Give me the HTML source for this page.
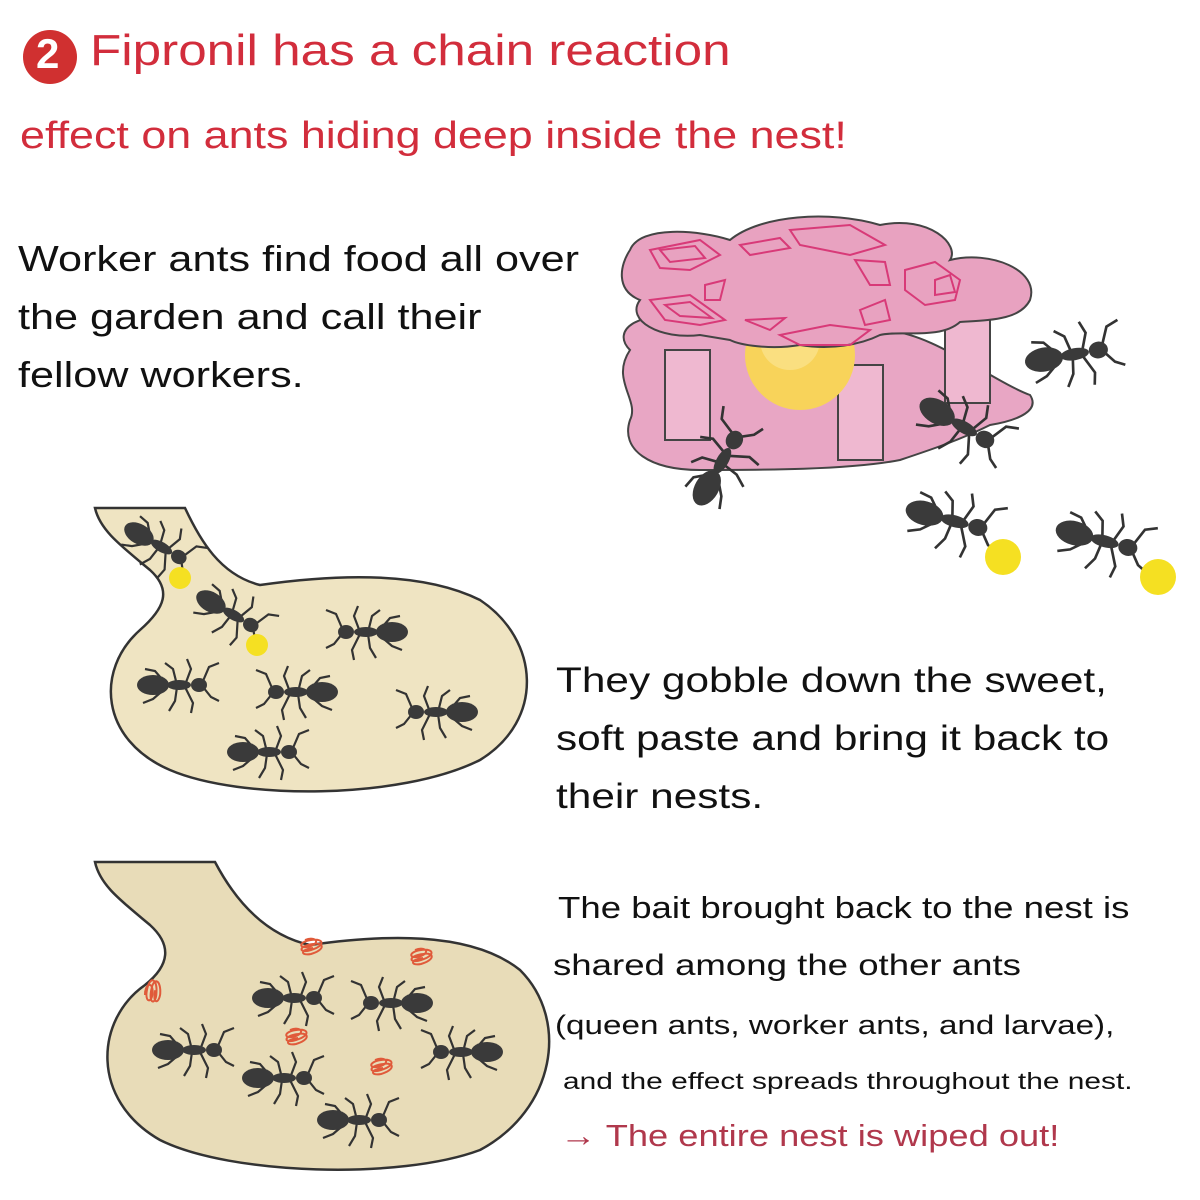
<!DOCTYPE html>
<html><head><meta charset="utf-8"><style>
body{margin:0;background:#fff;}
.w{position:relative;width:1200px;height:1200px;overflow:hidden;font-family:"Liberation Sans",sans-serif;}
.t{position:absolute;white-space:nowrap;transform-origin:0 0;}
svg{position:absolute;left:0;top:0}
</style></head><body><div class="w">
<svg width="1200" height="1200" viewBox="0 0 1200 1200">
<defs>
<g id="ant">
<g stroke="#333" stroke-width="2.2" fill="none">
<path d="M-8 0 L-20 -14 L-30 -16"/><path d="M-8 2 L-22 14 L-32 18"/>
<path d="M2 0 L-2 -16 L-10 -22"/><path d="M2 2 L0 16 L-6 26"/>
<path d="M10 0 L16 -16 L12 -26"/><path d="M10 2 L18 18 L16 28"/>
<path d="M28 -4 L34 -18 L44 -22"/><path d="M28 2 L36 12 L44 16"/>
</g>
<ellipse cx="-22" cy="0" rx="16" ry="10" fill="#3a3a3a"/>
<ellipse cx="4" cy="0" rx="12" ry="5" fill="#3a3a3a"/>
<ellipse cx="24" cy="0" rx="8" ry="7" fill="#3a3a3a"/>
</g>
<g id="coil" fill="none" stroke="#e05a3a" stroke-width="2">
<path d="M0 0 c10 -4 16 2 6 6 c-12 4 -14 -4 0 -6 c14 -2 14 6 0 10 c-12 4 -14 -4 2 -6 c12 -2 12 6 -2 10 c-10 2 -12 -4 2 -6"/>
</g>
</defs>
<path d="M95 508 L185 508 C200 540 220 575 260 585 C330 575 420 570 480 600 C540 640 545 720 480 760 C400 800 240 800 170 770 C100 740 95 670 140 630 C165 608 172 590 150 570 C120 545 100 530 95 508 Z" fill="#efe4c2" stroke="#333" stroke-width="2.5"/>
<path d="M95 862 L215 862 C235 900 265 935 310 945 C380 935 470 930 520 970 C570 1020 555 1110 480 1150 C400 1180 230 1175 160 1140 C90 1100 95 1020 145 985 C170 965 172 945 150 925 C120 900 100 885 95 862 Z" fill="#e8dcb8" stroke="#333" stroke-width="2.5"/>
<path d="M630 350 C610 330 640 310 680 320 L880 330 C930 330 990 380 1030 395 C1040 410 1020 420 990 425 C960 440 930 450 900 460 C850 470 760 470 700 470 C650 470 620 450 630 420 C640 400 610 380 630 350 Z" fill="#e8a6c4" stroke="#444" stroke-width="2"/>
<rect x="665" y="350" width="45" height="90" fill="#efb8d0" stroke="#444" stroke-width="2"/>
<rect x="838" y="365" width="45" height="95" fill="#efb8d0" stroke="#444" stroke-width="2"/>
<rect x="945" y="318" width="45" height="85" fill="#efb8d0" stroke="#444" stroke-width="2"/>
<circle cx="800" cy="355" r="55" fill="#f8d35a"/>
<circle cx="790" cy="340" r="30" fill="#fbe490" opacity=".7"/>
<path d="M630 250 C640 225 700 230 730 240 C760 215 830 210 880 225 C930 215 960 245 950 260 C990 250 1040 270 1030 300 C1020 320 990 320 960 322 C940 340 900 330 880 335 C860 345 830 350 800 345 C770 350 740 345 730 340 L700 335 C660 340 625 320 640 300 C615 290 620 265 630 250 Z" fill="#e8a2c0" stroke="#444" stroke-width="2"/>
<g fill="none" stroke="#d83a78" stroke-width="2">
<path d="M650 250 L700 240 L720 255 L690 270 L660 268 Z"/><path d="M660 250 L695 246 L705 258 L670 262 Z"/>
<path d="M650 300 L690 295 L725 320 L700 325 L665 320 Z"/><path d="M665 305 L690 302 L712 318 L680 316 Z"/>
<path d="M740 245 L780 238 L790 248 L750 255 Z"/><path d="M790 230 L850 225 L885 245 L850 255 L800 245 Z"/>
<path d="M855 260 L885 262 L890 285 L870 285 Z"/><path d="M905 270 L935 262 L960 280 L955 300 L925 305 L905 290 Z"/>
<path d="M935 280 L950 275 L955 292 L935 295 Z"/><path d="M780 335 L830 325 L870 330 L850 345 L800 345 Z"/>
<path d="M705 285 L725 280 L720 300 L705 300 Z"/><path d="M745 320 L785 318 L770 330 Z"/>
<path d="M860 310 L885 300 L890 320 L865 325 Z"/>
</g>
<use href="#ant" transform="translate(1070,355) rotate(-10) scale(1.2)"/>
<use href="#ant" transform="translate(960,425) rotate(30) scale(1.2)"/>
<use href="#ant" transform="translate(720,465) rotate(-60) scale(1.2)"/>
<use href="#ant" transform="translate(950,520) rotate(15) scale(1.2)"/>
<use href="#ant" transform="translate(1100,540) rotate(15) scale(1.2)"/>
<circle cx="1003" cy="557" r="18" fill="#f5e022"/>
<circle cx="1158" cy="577" r="18" fill="#f5e022"/>
<use href="#ant" transform="translate(158,545) rotate(30)"/>
<circle cx="180" cy="578" r="11" fill="#f5e022"/>
<use href="#ant" transform="translate(230,613) rotate(30)"/>
<circle cx="257" cy="645" r="11" fill="#f5e022"/>
<use href="#ant" transform="translate(370,632) scale(-1,1)"/>
<use href="#ant" transform="translate(175,685)"/>
<use href="#ant" transform="translate(300,692) scale(-1,1)"/>
<use href="#ant" transform="translate(440,712) scale(-1,1)"/>
<use href="#ant" transform="translate(265,752)"/>
<use href="#ant" transform="translate(290,998)"/>
<use href="#ant" transform="translate(395,1003) scale(-1,1)"/>
<use href="#ant" transform="translate(190,1050)"/>
<use href="#ant" transform="translate(280,1078)"/>
<use href="#ant" transform="translate(465,1052) scale(-1,1)"/>
<use href="#ant" transform="translate(355,1120)"/>
<use href="#coil" transform="translate(305,940)"/>
<use href="#coil" transform="translate(415,950)"/>
<use href="#coil" transform="translate(145,995) rotate(-70)"/>
<use href="#coil" transform="translate(290,1030)"/>
<use href="#coil" transform="translate(375,1060)"/>
<circle cx="50" cy="57" r="27" fill="#d03030"/>
</svg>
<div class="t" style="left:36px;top:30px;font-size:42px;font-weight:bold;color:#fff">2</div>
<div class="t" style="left:90px;top:26px;font-size:44px;color:#d22d3c;transform:scaleX(1.164)">Fipronil has a chain reaction</div>
<div class="t" style="left:20px;top:115px;font-size:38px;color:#d22d3c;transform:scaleX(1.18)">effect on ants hiding deep inside the nest!</div>
<div class="t" style="left:18px;top:230px;font-size:36px;line-height:58px;color:#111;transform:scaleX(1.2)">Worker ants find food all over<br>the garden and call their<br>fellow workers.</div>
<div class="t" style="left:556px;top:652px;font-size:35px;line-height:58px;color:#111;transform:scaleX(1.21)">They gobble down the sweet,<br>soft paste and bring it back to<br>their nests.</div>
<div class="t" style="left:558px;top:890px;font-size:31px;color:#111;transform:scaleX(1.18)">The bait brought back to the nest is</div>
<div class="t" style="left:553px;top:949px;font-size:30px;color:#111;transform:scaleX(1.22)">shared among the other ants</div>
<div class="t" style="left:555px;top:1010px;font-size:27px;color:#111;transform:scaleX(1.23)">(queen ants, worker ants, and larvae),</div>
<div class="t" style="left:563px;top:1068px;font-size:23px;color:#111;transform:scaleX(1.3)">and the effect spreads throughout the nest.</div>
<div class="t" style="left:560px;top:1118px;font-size:31px;color:#b0384c;transform:scaleX(1.17)">→ The entire nest is wiped out!</div>
</div></body></html>
